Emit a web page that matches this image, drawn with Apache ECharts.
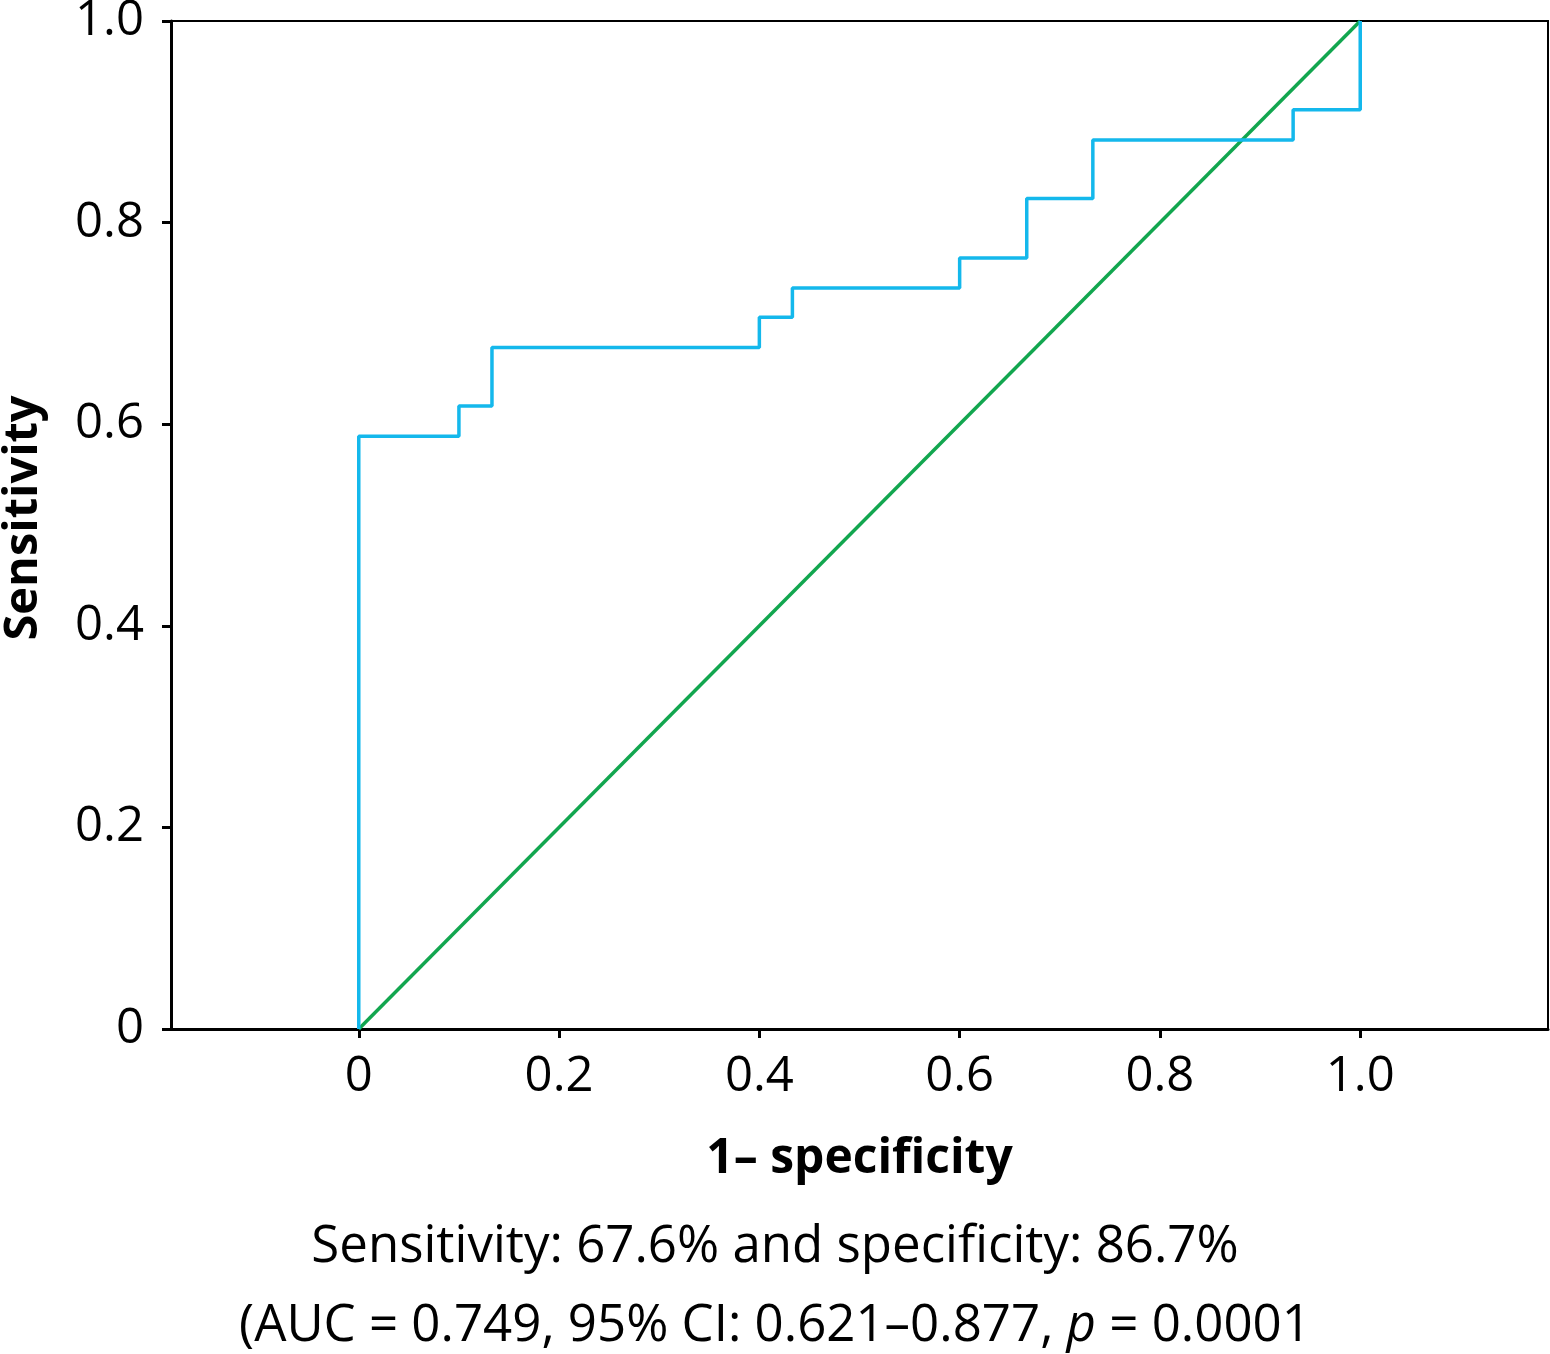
<!DOCTYPE html>
<html>
<head>
<meta charset="utf-8">
<script src="https://cdn.jsdelivr.net/npm/echarts@6/dist/echarts.min.js"></script>
<style>html,body{margin:0;padding:0;background:#fff;}#c{width:1550px;height:1354px;}</style>
</head>
<body>
<div id="c"></div>
<script>
// ROC curve corner points (1 - specificity, sensitivity)
var rocFpr = [0, 0, 0.1, 0.133, 0.4, 0.433, 0.6, 0.667, 0.733, 0.933, 1.0];
var rocTpr = [0, 0.588, 0.618, 0.676, 0.706, 0.735, 0.765, 0.824, 0.882, 0.912, 1.0];
// Reference diagonal
var diagX = [0, 1];
var diagY = [0, 1];
// Tick labels
var xTicks = [0, 0.2, 0.4, 0.6, 0.8, 1.0];
var yTicks = [0, 0.2, 0.4, 0.6, 0.8, 1.0];
var xName = '1\u2013 specificity';
var yName = 'Sensitivity';
var caption1 = 'Sensitivity: 67.6% and specificity: 86.7%';
var caption2 = '(AUC = 0.749, 95% CI: 0.621\u20130.877, {i|p} = 0.0001';

var FONT = '"Open Sans", "Noto Sans", sans-serif';
function fmt(v){ return Math.abs(v) < 1e-9 ? '0' : v.toFixed(1); }

var rocData = rocFpr.map(function(x,i){ return [x, rocTpr[i]]; });
var diagData = diagX.map(function(x,i){ return [x, diagY[i]]; });

var chart = echarts.init(document.getElementById('c'), null, {renderer:'canvas'});
chart.setOption({
  animation: false,
  backgroundColor: '#fff',
  grid: { left: 171, top: 21, right: 2, bottom: 325, containLabel: false, outerBoundsMode: 'none',
          show: true, borderColor: '#000', borderWidth: 2, backgroundColor: 'transparent' },
  xAxis: {
    type: 'value', min: -0.1875, max: 1.1875,
    name: xName, nameLocation: 'middle', nameGap: 106,
    nameTextStyle: { fontFamily: FONT, fontWeight: 'bold', fontSize: 48, color: '#000' },
    axisLine: { show: true, onZero: false, lineStyle: { color: '#000', width: 3 } },
    axisTick: { show: true, length: 9, customValues: xTicks, lineStyle: { color: '#000', width: 3 } },
    axisLabel: { customValues: xTicks, formatter: fmt, margin: 24, fontFamily: FONT, fontSize: 49, color: '#000' },
    splitLine: { show: false }
  },
  yAxis: {
    type: 'value', min: 0, max: 1,
    name: yName, nameLocation: 'middle', nameGap: 124,
    nameTextStyle: { fontFamily: FONT, fontWeight: 'bold', fontSize: 47, color: '#000', padding: [0, 0, 0, 14] },
    axisLine: { show: true, onZero: false, lineStyle: { color: '#000', width: 3 } },
    axisTick: { show: true, length: 9, customValues: yTicks, lineStyle: { color: '#000', width: 3 } },
    axisLabel: { customValues: yTicks, formatter: fmt, margin: 27, fontFamily: FONT, fontSize: 49, color: '#000' },
    splitLine: { show: false }
  },
  series: [
    { type: 'line', data: diagData, symbol: 'none', lineStyle: { color: '#12a64f', width: 3.5 }, z: 2 },
    { type: 'line', data: rocData, step: 'end', symbol: 'none', lineStyle: { color: '#14b8ec', width: 3.5 }, z: 3 }
  ],
  graphic: [
    { type: 'text', x: 775, y: 1247, style: { text: caption1, fontFamily: FONT, fontSize: 51, fill: '#000', align: 'center', verticalAlign: 'middle' } },
    { type: 'text', x: 775, y: 1326, style: { text: caption2, fontFamily: FONT, fontSize: 51, fill: '#000', align: 'center', verticalAlign: 'middle',
        rich: { i: { fontFamily: FONT, fontSize: 51, fontStyle: 'italic', fill: '#000' } } } }
  ]
});
</script>
</body>
</html>
